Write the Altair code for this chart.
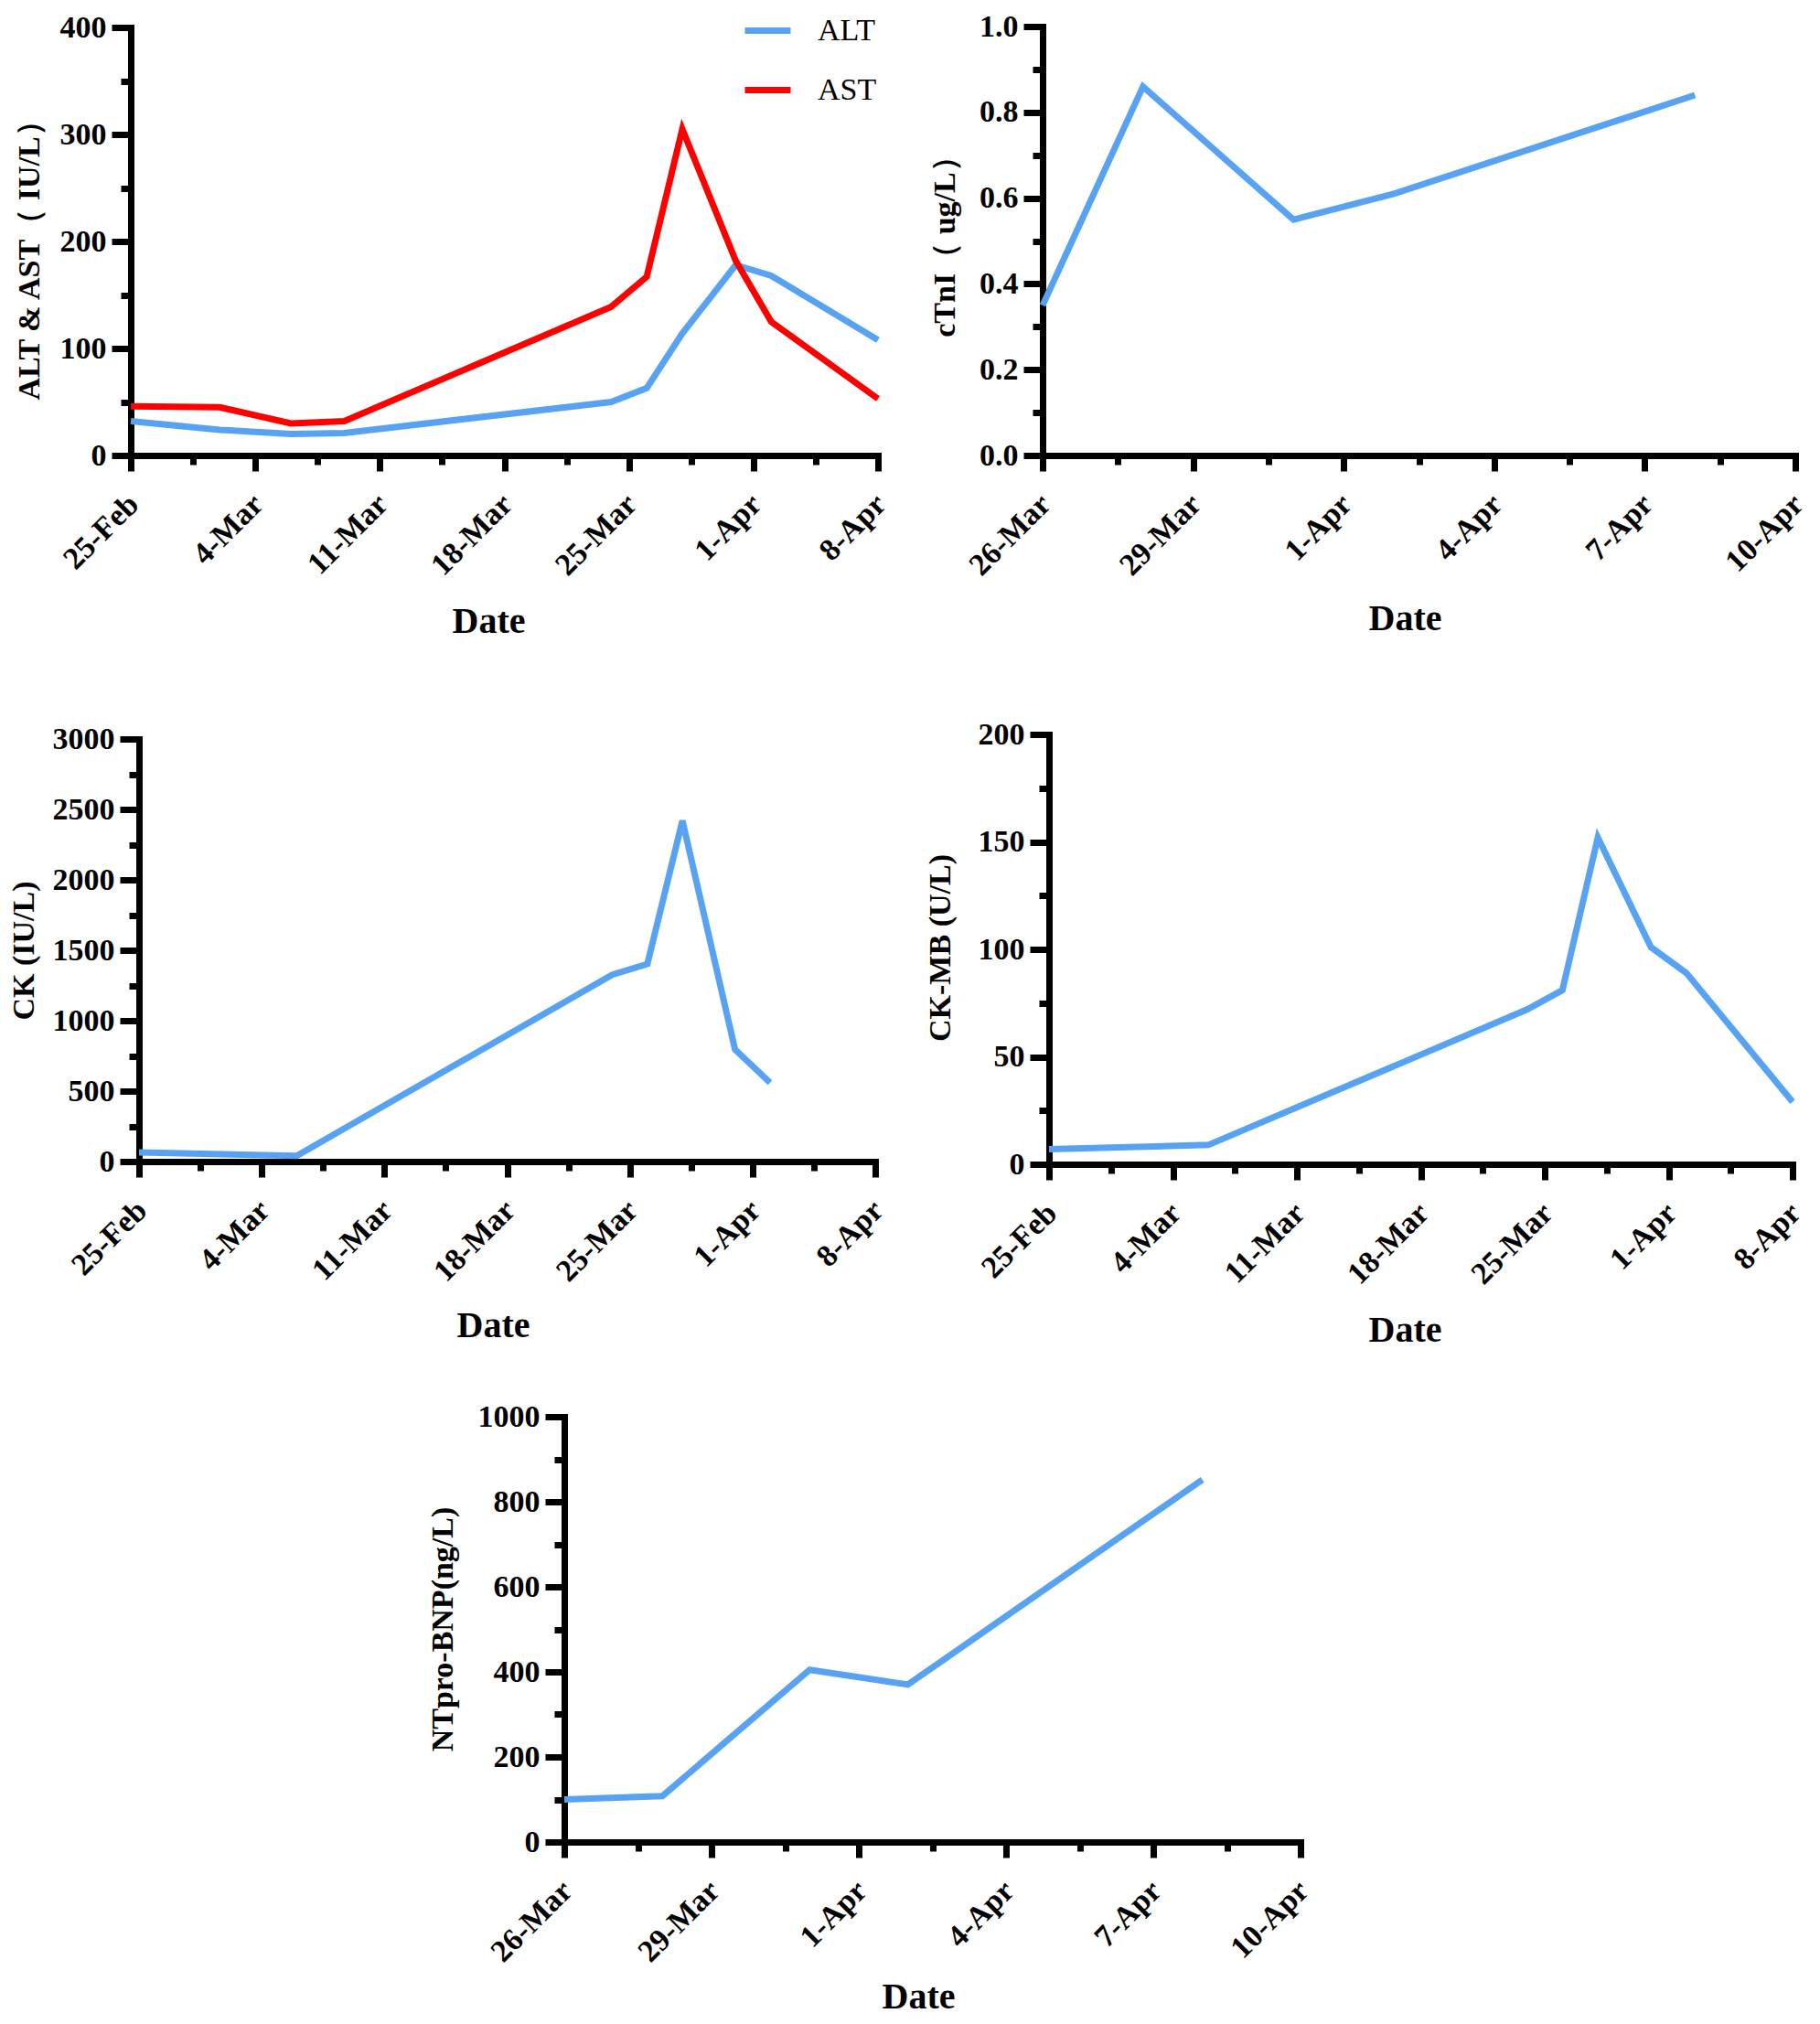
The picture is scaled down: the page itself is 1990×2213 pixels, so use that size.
import altair as alt
import pandas as pd

# ---------------- data ----------------
liver_dates = ["2021-02-25", "2021-03-02", "2021-03-06", "2021-03-09", "2021-03-24",
               "2021-03-26", "2021-03-28", "2021-03-31", "2021-04-02", "2021-04-08"]
alt_values = [32, 24, 20, 21, 50, 63, 114, 178, 168, 108]
ast_values = [46, 45, 30, 32, 139, 167, 305, 182, 125, 53]

ck_dates = ["2021-02-25", "2021-03-06", "2021-03-24", "2021-03-26", "2021-03-28",
            "2021-03-31", "2021-04-02"]
ck_values = [65, 40, 1327, 1402, 2420, 796, 560]

ckmb_dates = ["2021-02-25", "2021-03-06", "2021-03-24", "2021-03-26", "2021-03-28",
              "2021-03-31", "2021-04-02", "2021-04-08"]
ckmb_values = [7, 9, 72, 81, 152, 101, 89, 29]

ctni_dates = ["2021-03-26", "2021-03-28", "2021-03-31", "2021-04-02", "2021-04-08"]
ctni_values = [0.35, 0.86, 0.55, 0.61, 0.84]

bnp_dates = ["2021-03-26", "2021-03-28", "2021-03-31", "2021-04-02", "2021-04-08"]
bnp_values = [100, 108, 405, 370, 852]

# tick labels
long_ticks = ["2021-02-25", "2021-03-04", "2021-03-11", "2021-03-18", "2021-03-25",
              "2021-04-01", "2021-04-08"]
short_ticks = ["2021-03-26", "2021-03-29", "2021-04-01", "2021-04-04", "2021-04-07",
               "2021-04-10"]
ticks_liver = [0, 100, 200, 300, 400]
ticks_ctni = [0.0, 0.2, 0.4, 0.6, 0.8, 1.0]
ticks_ck = [0, 500, 1000, 1500, 2000, 2500, 3000]
ticks_ckmb = [0, 50, 100, 150, 200]
ticks_bnp = [0, 200, 400, 600, 800, 1000]

legend_names = ["ALT", "AST"]
BLUE = "#58A2F4"
RED = "#FF0000"
SERIF = "Liberation Serif"

W, H = 1974, 2197


def ms(s):
    return int(pd.Timestamp(s).value // 10**6)


def mids(vals):
    return [(a + b) / 2 for a, b in zip(vals[:-1], vals[1:])]


def panel(df, ycol, xticks, yticks, yfmt, xr, yr, ytitle, ytpos, dtpos, color=None):
    """xr = (left, right), yr = (top, bottom) in pixels of the single view."""
    xmaj = [ms(d) for d in xticks]
    xscale = alt.Scale(type="utc", domain=[xmaj[0], xmaj[-1]], range=[xr[0], xr[1]],
                       nice=False)
    yscale = alt.Scale(domain=[yticks[0], yticks[-1]], range=[yr[1], yr[0]],
                       nice=False, zero=True)
    xoff = yr[1] - H
    yoff = -xr[0]

    ax_x = alt.Axis(values=xmaj, format="%-d-%b", orient="bottom", offset=xoff,
                    labelAngle=315, labelAlign="right", labelBaseline="middle",
                    labelPadding=31, labelOffset=3, tickSize=17, title="Date",
                    titleX=dtpos[0], titleY=dtpos[1] - yr[1],
                    titleAngle=0, titleAlign="center", titleBaseline="middle",
                    titleFontSize=40, grid=False, labelOverlap=False,
                    labelFlush=False, labelBound=False)
    ax_y = alt.Axis(values=yticks, format=yfmt, orient="left", offset=yoff,
                    tickSize=21, labelPadding=6, title=ytitle,
                    titleX=ytpos[0] - xr[0], titleY=ytpos[1],
                    titleAngle=270, titleAlign="center", titleBaseline="middle",
                    grid=False, labelOverlap=False, labelFlush=False)
    mx_x = alt.Axis(values=mids(xmaj), orient="bottom", offset=xoff, labels=False,
                    domain=False, tickSize=10, title=None, grid=False)
    mx_y = alt.Axis(values=mids(yticks), orient="left", offset=yoff, labels=False,
                    domain=False, tickSize=11, title=None, grid=False)

    enc = dict(x=alt.X("date:T", scale=xscale, axis=ax_x),
               y=alt.Y(f"{ycol}:Q", scale=yscale, axis=ax_y))
    if color is not None:
        enc["color"] = color
        main = alt.Chart(df).mark_line(strokeWidth=7).encode(**enc)
    else:
        main = alt.Chart(df).mark_line(strokeWidth=7, color=BLUE).encode(**enc)
    minor = alt.Chart(df).mark_line(opacity=0).encode(
        x=alt.X("date:T", scale=xscale, axis=mx_x),
        y=alt.Y(f"{ycol}:Q", scale=yscale, axis=mx_y))
    return alt.layer(main, minor).resolve_axis(x="independent", y="independent")


# ---------------- panels ----------------
liver_df = pd.DataFrame({
    "date": liver_dates + liver_dates,
    "value": alt_values + ast_values,
    "test": ["ALT"] * len(liver_dates) + ["AST"] * len(liver_dates),
})
liver_color = alt.Color(
    "test:N",
    scale=alt.Scale(domain=legend_names, range=[BLUE, RED]),
    legend=alt.Legend(orient="none", legendX=803, legendY=-3, title=None,
                      symbolType="stroke", symbolStrokeWidth=7, symbolSize=2500,
                      labelFont=SERIF, labelFontSize=34, labelFontWeight="normal",
                      labelColor="black", labelOffset=26, rowPadding=19, padding=0))

p1 = panel(liver_df, "value", long_ticks, ticks_liver, "d", (135, 952), (22, 490),
           "ALT & AST（ IU/L）", (24, 268), (526, 671), color=liver_color)

p2 = panel(pd.DataFrame({"date": ctni_dates, "value": ctni_values}), "value",
           short_ticks, ticks_ctni, ".1f", (1132, 1955), (21, 490), "cTnI（ ug/L）",
           (1025, 253), (1528, 668))

p3 = panel(pd.DataFrame({"date": ck_dates, "value": ck_values}), "value",
           long_ticks, ticks_ck, "d", (144, 949), (800, 1262), "CK (IU/L)",
           (18, 1031), (531, 1441))

p4 = panel(pd.DataFrame({"date": ckmb_dates, "value": ckmb_values}), "value",
           long_ticks, ticks_ckmb, "d", (1139, 1952), (795, 1265), "CK-MB (U/L)",
           (1020, 1028), (1528, 1446))

p5 = panel(pd.DataFrame({"date": bnp_dates, "value": bnp_values}), "value",
           short_ticks, ticks_bnp, "d", (609, 1414), (1541, 2006), "NTpro-BNP(ng/L)",
           (476, 1773), (996, 2175))

chart = (alt.layer(p1, p2, p3, p4, p5)
         .resolve_scale(x="independent", y="independent", color="independent")
         .resolve_axis(x="independent", y="independent")
         .properties(width=W, height=H, padding=0,
                     autosize=alt.AutoSizeParams(type="none"))
         .configure_view(strokeWidth=0)
         .configure_axis(domainColor="black", domainWidth=7, domainCap="square",
                         tickColor="black", tickWidth=7,
                         labelFont=SERIF, labelFontSize=34, labelFontWeight="bold",
                         labelColor="black", titleFont=SERIF, titleFontSize=34,
                         titleFontWeight="bold", titleColor="black"))

chart.save("out.html", embed_options={"renderer": "svg", "actions": False})
